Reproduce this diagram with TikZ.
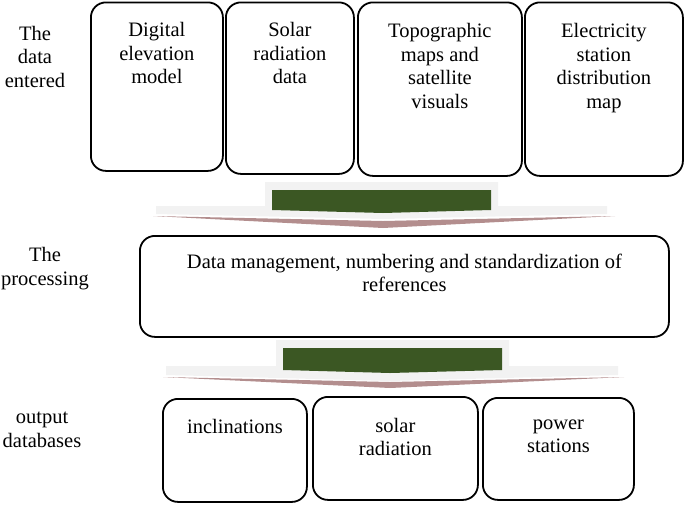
\documentclass[tikz,border=0pt]{standalone}
\usepackage{fontspec}
\setmainfont{Liberation Serif}
\usetikzlibrary{positioning}
\definecolor{arrowgray}{HTML}{F2F2F2}
\definecolor{arrowgreen}{HTML}{3B5723}
\definecolor{arrowshadow}{HTML}{B38E8E}

\begin{document}
\begin{tikzpicture}[x=1pt,y=-1pt,
	box/.style={draw, line width=1.8pt, rounded corners=15pt, anchor=north west, inner sep=0pt},
	lbl/.style={align=center, inner sep=0pt, anchor=base, font=\fontsize{20.5}{23.5}\selectfont}]
	\useasboundingbox (0,0) rectangle (685,504);

	% the data entered
	\node[box, minimum width=132, minimum height=168.5] (dem) at (90,1.5) {};
	\node[box, minimum width=128, minimum height=171.5] (solar) at (225,1.5) {};
	\node[box, minimum width=164, minimum height=173.5] (topo) at (357,1.5) {};
	\node[box, minimum width=158, minimum height=173.5] (elec) at (524,1.5) {};
	\node[lbl] (demtxt) at ([yshift=-82pt]dem.north) {Digital\\elevation\\model};
	\node[lbl] (solartxt) at ([yshift=-82pt]solar.north) {Solar\\radiation\\data};
	\node[lbl] (topotxt) at ([yshift=-106.5pt]topo.north) {Topographic\\maps and\\satellite\\visuals};
	\node[lbl] (electxt) at ([yshift=-106.5pt]elec.north) {Electricity\\station\\distribution\\map};

	% the processing
	\node[box, minimum width=529, minimum height=101] (proc) at (139,235) {};
	\node[lbl] (proctxt) at ([yshift=-56.5pt]proc.north) {Data management, numbering and standardization of\\references};

	% output databases
	\node[box, minimum width=144, minimum height=103] (incl) at (162,398) {};
	\node[box, minimum width=165, minimum height=103] (srad) at (312,396) {};
	\node[box, minimum width=151, minimum height=102] (power) at (482,397) {};
	\node[lbl] (incltxt) at ([yshift=-35pt]incl.north) {inclinations};
	\node[lbl] (sradtxt) at ([yshift=-59.5pt]srad.north) {solar\\radiation};
	\node[lbl] (powertxt) at ([yshift=-55.5pt]power.north) {power\\stations};

	% row titles
	\node[lbl] (entered) at (35,87) {The\\data\\entered};
	\node[lbl] (processing) at (45,285) {The\\processing};
	\node[lbl] (output) at (42,447) {output\\databases};

	% block arrows
	\fill[arrowshadow] (153,216) -- (383,228) -- (615,216) -- (383,221) -- cycle;
	\fill[arrowgray] (265,182) -- (498,182) -- (498,206) -- (607,206) -- (607,214) -- (383,219) -- (156,214) -- (156,206) -- (265,206) -- cycle;
	\fill[arrowgreen] (272,190) -- (491,190) -- (491,210) -- (383,213) -- (272,210) -- cycle;

	\fill[arrowshadow] (163,377) -- (390,388) -- (624,377) -- (390,382) -- cycle;
	\fill[arrowgray] (276,340) -- (509,340) -- (509,366) -- (618,366) -- (618,375) -- (390,381) -- (166,375) -- (166,366) -- (276,366) -- cycle;
	\fill[arrowgreen] (283,348) -- (502,348) -- (502,370) -- (390,373) -- (283,370) -- cycle;
\end{tikzpicture}
\end{document}
